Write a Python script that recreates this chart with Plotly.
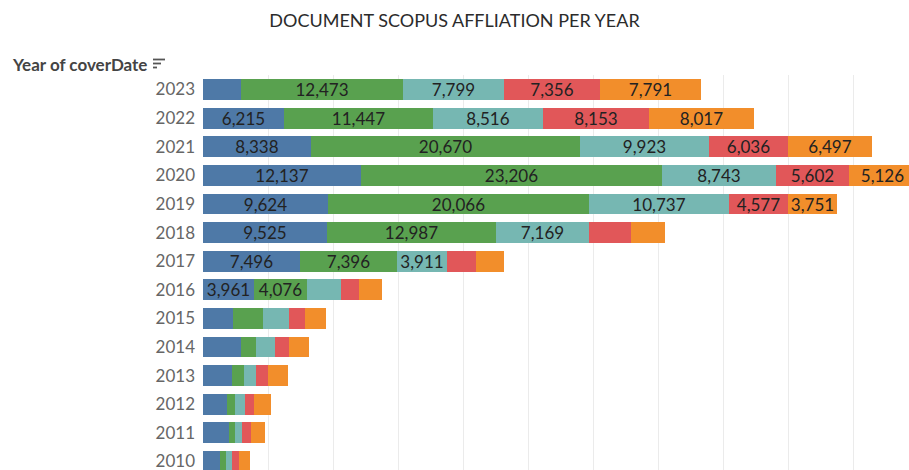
import plotly.graph_objects as go

years = [2023, 2022, 2021, 2020, 2019, 2018, 2017, 2016, 2015, 2014, 2013, 2012, 2011, 2010]

aff_blue   = [2900, 6215, 8338, 12137, 9624, 9525, 7496, 3961, 2320, 2890, 2250, 1860, 2015, 1320]
aff_green  = [12473, 11447, 20670, 23206, 20066, 12987, 7396, 4076, 2320, 1210, 880, 620, 465, 465]
aff_teal   = [7799, 8516, 9923, 8743, 10737, 7169, 3911, 2550, 1990, 1450, 980, 775, 540, 465]
aff_red    = [7356, 8153, 6036, 5602, 4577, 3255, 2190, 1420, 1190, 1085, 880, 645, 645, 540]
aff_orange = [7791, 8017, 6497, 5126, 3751, 2590, 2190, 1750, 1650, 1550, 1550, 1320, 1110, 850]

series_names = ["Affiliation A", "Affiliation B", "Affiliation C", "Affiliation D", "Affiliation E"]
series_values = [aff_blue, aff_green, aff_teal, aff_red, aff_orange]
colors = ["#4e79a7", "#59a14f", "#76b7b2", "#e15759", "#f28e2b"]

LABEL_MIN = 3500  # segments too narrow for a label stay unlabeled (as in Tableau)

fig = go.Figure()
for name, vals, col in zip(series_names, series_values, colors):
    fig.add_trace(go.Bar(
        y=years, x=vals, name=name, orientation="h",
        marker=dict(color=col, line=dict(width=0)),
        width=0.73,
        text=[f"{v:,}" if v >= LABEL_MIN else "" for v in vals],
        textposition="inside", insidetextanchor="middle", textangle=0,
        textfont=dict(family="Lato", size=17, color="#222222"),
        cliponaxis=True,
    ))

fig.update_layout(
    barmode="stack",
    width=909, height=470,
    margin=dict(l=203, r=0, t=75, b=0),
    paper_bgcolor="white", plot_bgcolor="white",
    showlegend=False,
    bargap=0,
    uniformtext=dict(minsize=17, mode="show"),
    title=dict(text="DOCUMENT SCOPUS AFFLIATION PER YEAR", x=0.5, xanchor="center",
               xref="container", y=1 - 21 / 470, yanchor="middle", yref="container",
               font=dict(family="Lato", size=18, color="#2b2b2b")),
    font=dict(family="Lato"),
)

fig.update_xaxes(range=[0, 706 / 0.013], showgrid=True, gridcolor="#ebebeb", gridwidth=1,
                 dtick=5000, showticklabels=False, zeroline=False, showline=False, ticks="")
fig.update_yaxes(range=[2009.70, 2023.507], tickvals=years, ticktext=[str(y) for y in years],
                 showgrid=False, zeroline=False, showline=False, ticks="",
                 ticklabelstandoff=7, ticklabeloverflow="allow",
                 tickfont=dict(family="Lato", size=17, color="#666666"))


def px_x(p):
    return (p - 203) / 706


def px_y(p):
    return (470 - p) / 395


fig.add_annotation(text="Year of coverDate", xref="paper", yref="paper",
                   x=px_x(10), y=px_y(64), xanchor="left", yanchor="middle",
                   showarrow=False, font=dict(family="Lato", size=17, color="#444444", weight="bold"))

# sort icon (three lines of decreasing length)
for i, (x0, x1) in enumerate([(153, 165), (153, 161), (153, 157)]):
    yy = 59.5 + i * 4
    fig.add_shape(type="line", xref="paper", yref="paper",
                  x0=px_x(x0), x1=px_x(x1), y0=px_y(yy), y1=px_y(yy),
                  line=dict(color="#555555", width=1.8))

fig.write_html("out.html", config={"displayModeBar": False},
               post_script="document.body.style.margin='0px';")
